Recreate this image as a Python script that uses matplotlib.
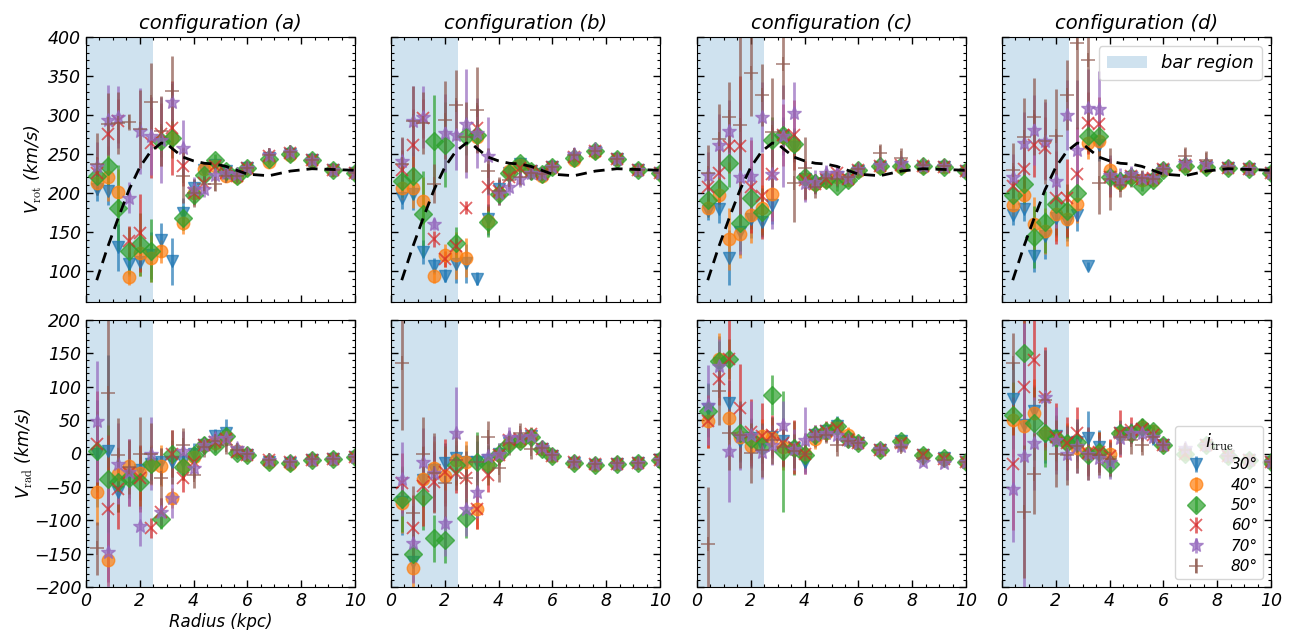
import matplotlib
matplotlib.use('Agg')
import matplotlib.pyplot as plt
from matplotlib.ticker import MultipleLocator, AutoMinorLocator

plt.rcParams['font.family'] = ['DejaVu Sans']
plt.rcParams['font.style'] = 'italic'
plt.rcParams['mathtext.fontset'] = 'custom'
plt.rcParams['mathtext.rm'] = 'cmr10'
plt.rcParams['mathtext.it'] = 'DejaVu Sans:italic'
plt.rcParams['axes.formatter.use_mathtext'] = False

# ---------------- data ----------------
radius = [0.4, 0.8, 1.2, 1.6, 2.0, 2.4, 2.8, 3.2, 3.6, 4.0,
          4.4, 4.8, 5.2, 5.6, 6.0, 6.8, 7.6, 8.4, 9.2, 10.0]
inclinations = [30, 40, 50, 60, 70, 80]
configs = ['a', 'b', 'c', 'd']

model_r = [0.4, 0.8, 1.2, 1.6, 2.0, 2.4, 2.8, 3.0, 3.2, 3.6, 4.0,
           4.4, 4.8, 5.2, 5.6, 6.0, 6.8, 7.6, 8.4, 9.2, 10.0]
model_v = [88, 130, 168, 204, 233, 253, 264, 263, 257, 246, 241,
           238, 237, 234, 229, 224, 222, 228, 231, 230, 229]

# rotation velocity (km/s)
vrot_a = {30: [205, 202, 130, 109, 111, 120, 140, 112, 174, 206, 230, 236, 228, 222, 232, 245, 250, 242, 230, 226],
          40: [213, 220, 201, 92, 123, 116, 125, 270, 162, 200, 231, 234, 222, 221, 231, 240, 249, 241, 230, 226],
          50: [222, 235, 181, 126, 134, 126, 266, 270, 168, 197, 223, 242, 228, 222, 232, 244, 250, 242, 230, 226],
          60: [226, 275, 292, 138, 149, 264, 275, 283, 234, 200, 213, 235, 226, 222, 232, 247, 251, 242, 230, 226],
          70: [235, 293, 297, 194, 279, 273, 268, 317, 258, 205, 205, 223, 226, 224, 232, 249, 252, 242, 230, 226],
          80: [237, 288, 290, 291, 282, 317, 279, 331, 222, 200, 212, 212, 222, 222, 232, 248, 252, 242, 230, 226]}
vrot_b = {30: [194, 198, 124, 106, 94, 109, 110, 90, 166, 205, 226, 237, 228, 224, 233, 244, 252, 244, 230, 226],
          40: [206, 206, 190, 94, 120, 120, 117, 272, 164, 200, 228, 236, 228, 222, 232, 242, 252, 244, 230, 226],
          50: [215, 222, 173, 266, 262, 136, 273, 274, 163, 199, 226, 238, 228, 224, 233, 245, 254, 244, 230, 226],
          60: [230, 262, 296, 141, 115, 132, 181, 283, 207, 203, 221, 232, 228, 224, 233, 246, 254, 244, 230, 226],
          70: [241, 292, 297, 160, 277, 274, 289, 277, 247, 200, 207, 218, 226, 224, 233, 250, 256, 244, 230, 226],
          80: [237, 292, 290, 212, 294, 313, 272, 306, 228, 203, 217, 220, 226, 224, 233, 248, 254, 244, 230, 226]}
vrot_c = {30: [177, 179, 117, 150, 167, 163, 185, 273, 259, 218, 212, 217, 220, 217, 228, 233, 233, 233, 233, 228],
          40: [181, 197, 141, 147, 171, 180, 199, 272, 262, 218, 211, 215, 220, 217, 228, 233, 233, 233, 233, 228],
          50: [191, 206, 238, 161, 194, 176, 268, 274, 263, 220, 213, 217, 209, 217, 230, 234, 234, 234, 233, 228],
          60: [207, 226, 260, 260, 208, 196, 224, 274, 274, 216, 212, 218, 226, 218, 230, 235, 236, 234, 233, 228],
          70: [223, 261, 279, 221, 222, 297, 224, 273, 302, 213, 214, 226, 225, 219, 231, 236, 238, 235, 234, 228],
          80: [226, 269, 297, 287, 354, 326, 278, 365, 213, 232, 208, 219, 218, 220, 231, 251, 245, 236, 234, 228]}
vrot_d = {30: [171, 179, 119, 145, 168, 163, 171, 106, 261, 221, 215, 221, 217, 217, 230, 234, 233, 232, 231, 226],
          40: [185, 197, 160, 151, 173, 167, 186, 264, 267, 230, 213, 221, 217, 217, 230, 234, 233, 232, 231, 226],
          50: [197, 211, 143, 163, 186, 177, 200, 273, 273, 221, 215, 221, 209, 217, 230, 234, 233, 232, 231, 226],
          60: [209, 231, 261, 258, 194, 194, 224, 290, 288, 220, 215, 222, 218, 219, 231, 236, 235, 232, 231, 226],
          70: [220, 264, 281, 266, 215, 300, 255, 309, 307, 223, 217, 224, 219, 219, 231, 238, 237, 233, 231, 226],
          80: [229, 272, 298, 266, 273, 326, 392, 371, 213, 218, 210, 220, 219, 218, 231, 247, 242, 233, 231, 226]}

erot_a = {30: [15, 18, 30, 15, 10, 30, 22, 30, 20, 12, 8, 6, 6, 5, 5, 6, 6, 5, 4, 4],
          40: [15, 30, 30, 10, 30, 30, 15, 15, 15, 10, 8, 6, 6, 5, 5, 6, 6, 5, 4, 4],
          50: [20, 25, 55, 30, 40, 40, 20, 25, 15, 10, 8, 8, 6, 5, 5, 6, 6, 5, 4, 4],
          60: [20, 25, 28, 20, 50, 45, 40, 60, 25, 15, 10, 8, 6, 5, 5, 8, 6, 5, 4, 4],
          70: [30, 45, 40, 20, 55, 50, 55, 25, 35, 15, 10, 8, 8, 6, 6, 8, 8, 6, 4, 4],
          80: [40, 40, 40, 10, 50, 50, 45, 45, 35, 18, 12, 10, 8, 6, 6, 10, 8, 6, 5, 5]}
erot_b = {30: [15, 20, 15, 10, 8, 25, 25, 8, 20, 12, 8, 6, 6, 5, 5, 6, 8, 6, 4, 4],
          40: [15, 25, 30, 10, 15, 30, 25, 15, 15, 10, 10, 6, 6, 5, 5, 6, 6, 5, 4, 4],
          50: [20, 30, 55, 60, 55, 20, 25, 20, 20, 10, 8, 8, 6, 5, 5, 6, 6, 5, 4, 4],
          60: [25, 45, 25, 10, 10, 10, 8, 30, 30, 15, 10, 8, 6, 5, 5, 8, 6, 5, 4, 4],
          70: [30, 45, 40, 8, 50, 45, 70, 45, 50, 15, 10, 10, 8, 6, 6, 8, 8, 6, 4, 4],
          80: [35, 45, 40, 25, 50, 45, 45, 55, 30, 18, 12, 10, 8, 6, 6, 10, 8, 6, 5, 5]}
erot_c = {30: [12, 18, 35, 30, 25, 20, 25, 25, 20, 12, 8, 6, 6, 5, 5, 6, 6, 5, 4, 4],
          40: [12, 15, 40, 30, 35, 30, 30, 20, 15, 10, 10, 8, 6, 5, 5, 6, 6, 5, 4, 4],
          50: [15, 20, 30, 35, 40, 30, 30, 20, 20, 12, 10, 8, 6, 5, 5, 6, 6, 5, 4, 4],
          60: [25, 40, 35, 90, 60, 55, 60, 40, 45, 25, 12, 10, 8, 6, 5, 8, 6, 5, 4, 4],
          70: [30, 40, 40, 100, 50, 45, 70, 65, 40, 25, 15, 10, 8, 6, 6, 8, 8, 6, 4, 4],
          80: [35, 45, 45, 130, 55, 40, 70, 45, 50, 40, 15, 12, 10, 6, 6, 12, 12, 6, 5, 5]}
erot_d = {30: [12, 15, 20, 30, 25, 25, 20, 5, 20, 12, 8, 6, 6, 5, 5, 6, 6, 5, 4, 4],
          40: [15, 20, 35, 30, 35, 35, 25, 20, 20, 10, 10, 8, 6, 5, 5, 6, 6, 5, 4, 4],
          50: [15, 25, 40, 40, 40, 35, 30, 20, 20, 12, 10, 8, 6, 5, 5, 6, 6, 5, 4, 4],
          60: [25, 40, 40, 40, 60, 50, 60, 40, 35, 25, 12, 10, 8, 6, 5, 8, 6, 5, 4, 4],
          70: [30, 40, 45, 50, 60, 45, 90, 50, 50, 25, 15, 10, 8, 6, 6, 8, 8, 6, 4, 4],
          80: [35, 50, 50, 55, 60, 45, 110, 90, 40, 40, 15, 12, 10, 6, 6, 12, 12, 6, 5, 5]}

# radial velocity (km/s)
vrad_a = {30: [0, 3, -57, -29, -25, -15, -12, -12, -12, 0, 13, 26, 31, 1, -2, -12, -14, -9, -8, -5],
          40: [-57, -159, -30, -19, -29, -17, -18, -67, -19, -5, 13, 15, 24, 3, -2, -12, -16, -9, -8, -5],
          50: [3, -38, -43, -37, -43, -15, -98, 0, -20, -2, 13, 11, 26, 1, -2, -12, -14, -9, -8, -5],
          60: [14, -83, -53, -29, -37, -112, -87, 0, -37, -12, 13, 17, 22, 2, -2, -10, -12, -9, -8, -5],
          70: [48, -147, -15, -28, -109, 0, -87, -67, 3, -22, 13, 23, 23, 8, -1, -10, -12, -9, -8, -5],
          80: [-142, 90, -2, -20, 0, 0, -37, -5, 13, -32, 10, 18, 12, 5, -1, -10, -12, -8, -8, -5]}
vrad_b = {30: [-72, -162, -40, -25, -14, -7, -12, -12, -10, 0, 16, 19, 26, 6, -3, -14, -17, -15, -14, -10],
          40: [-74, -172, -38, -22, -34, -10, -12, -83, -15, -2, 16, 19, 26, 6, -3, -14, -17, -15, -14, -10],
          50: [-68, -150, -65, -127, -129, -17, -97, -13, -17, 0, 14, 19, 24, 6, -3, -14, -17, -15, -14, -10],
          60: [-44, -112, -49, -42, -28, -29, -37, -83, -32, -2, 20, 22, 29, 6, -3, -12, -15, -15, -14, -10],
          70: [-38, -134, -12, -29, -104, 30, -83, -57, -4, 0, 24, 24, 26, 10, -2, -12, -15, -15, -14, -10],
          80: [135, -89, 0, -29, -44, -10, -37, -12, 24, -22, 16, 31, 7, 8, -2, -12, -15, -14, -14, -10]}
vrad_c = {30: [66, 136, 75, 18, 23, 11, 25, 18, 8, -12, 28, 33, 41, 21, 16, 5, 18, -2, -7, -12],
          40: [48, 141, 53, 25, 11, 26, 23, 10, 6, 0, 22, 30, 38, 28, 16, 5, 16, -2, -8, -12],
          50: [64, 138, 142, 30, 21, 11, 88, 3, 8, -2, 28, 33, 41, 21, 16, 5, 18, -2, -7, -12],
          60: [48, 112, 142, 68, 32, 26, 28, 16, 10, 0, 28, 33, 38, 20, 15, 5, 15, -2, -8, -12],
          70: [72, 131, 3, 26, 28, 2, 13, 43, 6, 20, 28, 30, 27, 20, 15, 6, 11, -12, -14, -12],
          80: [-135, 93, 30, 28, 1, 5, 20, 10, 4, 0, 24, 28, 12, 18, 15, 5, 10, -6, -10, -12]}
vrad_d = {30: [82, 42, 63, 26, 26, 15, 17, 23, 10, -12, 30, 30, 36, 23, 13, 0, 13, -4, -9, -12],
          40: [50, 41, 61, 30, 23, 15, 8, 1, 2, 0, 30, 30, 40, 33, 13, 0, 13, -4, -9, -12],
          50: [57, 151, 45, 30, 23, 15, 17, -2, 2, -15, 30, 30, 40, 33, 13, 0, 13, -4, -9, -12],
          60: [-15, 100, 140, 85, 25, 15, 30, 1, 2, -4, 30, 35, 36, 28, 13, 0, 13, -4, -9, -12],
          70: [-53, -4, 15, 85, 20, 0, 11, 0, -7, -13, 23, 30, 30, 25, 13, 8, 12, -4, -9, -12],
          80: [135, -87, -30, 80, 0, -2, 11, 0, -2, -8, 25, 20, 13, 25, 13, 5, 12, -4, -9, -12]}

erad_a = {30: [80, 145, 30, 25, 30, 25, 20, 25, 20, 15, 12, 10, 20, 8, 6, 6, 10, 6, 5, 5],
          40: [50, 40, 40, 25, 40, 30, 30, 15, 20, 12, 10, 10, 10, 8, 6, 6, 8, 6, 5, 5],
          50: [60, 80, 45, 30, 40, 25, 15, 20, 20, 12, 10, 10, 10, 8, 6, 6, 8, 6, 5, 5],
          60: [80, 110, 60, 50, 50, 15, 20, 35, 20, 15, 10, 10, 10, 8, 6, 6, 8, 6, 5, 5],
          70: [90, 120, 60, 50, 30, 55, 20, 30, 30, 15, 12, 12, 10, 8, 6, 6, 8, 6, 5, 5],
          80: [40, 110, 55, 40, 55, 45, 45, 40, 25, 20, 15, 15, 12, 8, 6, 8, 8, 6, 5, 5]}
erad_b = {30: [50, 30, 40, 40, 30, 25, 25, 30, 20, 12, 10, 10, 10, 8, 6, 6, 8, 6, 5, 5],
          40: [45, 30, 40, 40, 40, 30, 30, 30, 20, 12, 10, 10, 10, 8, 6, 6, 8, 6, 5, 5],
          50: [50, 30, 50, 35, 35, 30, 30, 45, 30, 15, 10, 10, 10, 8, 6, 6, 8, 6, 5, 5],
          60: [45, 50, 60, 45, 50, 30, 30, 30, 25, 15, 12, 10, 10, 8, 6, 6, 8, 6, 5, 5],
          70: [55, 60, 50, 55, 50, 70, 40, 40, 30, 15, 15, 12, 10, 8, 6, 6, 8, 6, 5, 5],
          80: [100, 40, 55, 60, 55, 45, 40, 40, 25, 20, 18, 15, 15, 8, 6, 8, 8, 6, 5, 5]}
erad_c = {30: [40, 40, 35, 30, 30, 25, 30, 35, 20, 15, 12, 10, 15, 8, 8, 6, 8, 6, 5, 5],
          40: [40, 40, 40, 35, 25, 25, 30, 35, 25, 20, 15, 12, 12, 12, 8, 6, 8, 6, 5, 5],
          50: [40, 30, 30, 40, 30, 25, 30, 90, 40, 20, 12, 10, 12, 8, 8, 6, 8, 6, 5, 5],
          60: [40, 40, 60, 66, 50, 50, 30, 35, 40, 30, 15, 15, 12, 8, 8, 6, 8, 6, 5, 5],
          70: [60, 40, 75, 50, 50, 40, 30, 35, 30, 50, 15, 12, 12, 8, 8, 6, 8, 6, 5, 5],
          80: [85, 50, 55, 50, 45, 40, 35, 30, 25, 20, 15, 12, 15, 8, 8, 6, 8, 6, 5, 5]}
erad_d = {30: [55, 40, 40, 40, 30, 25, 30, 40, 25, 15, 12, 12, 15, 10, 8, 6, 8, 6, 5, 5],
          40: [55, 50, 50, 40, 30, 30, 30, 30, 30, 20, 15, 12, 12, 10, 8, 6, 8, 6, 5, 5],
          50: [50, 100, 55, 50, 35, 25, 25, 30, 30, 20, 12, 15, 12, 10, 8, 6, 8, 6, 5, 5],
          60: [100, 100, 60, 75, 50, 40, 40, 35, 30, 25, 35, 20, 15, 10, 8, 6, 8, 6, 5, 5],
          70: [80, 200, 70, 70, 50, 40, 40, 40, 30, 25, 25, 15, 12, 10, 8, 6, 8, 6, 5, 5],
          80: [45, 100, 60, 75, 50, 45, 40, 40, 30, 25, 25, 20, 15, 10, 8, 6, 8, 6, 5, 5]}

bar_end = 2.5

vrot = {'a': vrot_a, 'b': vrot_b, 'c': vrot_c, 'd': vrot_d}
erot = {'a': erot_a, 'b': erot_b, 'c': erot_c, 'd': erot_d}
vrad = {'a': vrad_a, 'b': vrad_b, 'c': vrad_c, 'd': vrad_d}
erad = {'a': erad_a, 'b': erad_b, 'c': erad_c, 'd': erad_d}

# ---------------- style ----------------
colors = {30: 'tab:blue', 40: 'tab:orange', 50: 'tab:green',
          60: 'tab:red', 70: 'tab:purple', 80: 'tab:brown'}
markers = {30: 'v', 40: 'o', 50: 'D', 60: 'x', 70: '*', 80: '+'}
msizes = {30: 9, 40: 9, 50: 9, 60: 8, 70: 10, 80: 10}
mews = {30: 1, 40: 1, 50: 1, 60: 1.3, 70: 1, 80: 1.2}

W, H = 1293, 630
fig = plt.figure(figsize=(W / 100, H / 100), dpi=100)
lefts = [86, 391, 697, 1002]
aw = 269
row_px = [(37, 302), (320, 587)]


def make_ax(col, row):
    x0 = lefts[col]
    y_top, y_bot = row_px[row]
    return fig.add_axes([x0 / W, 1 - y_bot / H, aw / W, (y_bot - y_top) / H])


def style(ax, row, col):
    ax.set_xlim(0, 10)
    ax.xaxis.set_major_locator(MultipleLocator(2))
    ax.xaxis.set_minor_locator(AutoMinorLocator(4))
    if row == 0:
        ax.set_ylim(60, 400)
        ax.yaxis.set_major_locator(MultipleLocator(50))
        ax.yaxis.set_minor_locator(AutoMinorLocator(5))
        ax.set_yticks([100, 150, 200, 250, 300, 350, 400])
    else:
        ax.set_ylim(-200, 200)
        ax.yaxis.set_major_locator(MultipleLocator(50))
        ax.yaxis.set_minor_locator(AutoMinorLocator(5))
    ax.tick_params(which='both', direction='in', top=True, right=True, labelsize=12.5)
    ax.tick_params(which='major', length=5, width=1)
    ax.tick_params(which='minor', length=2.5, width=0.8)
    if row == 0:
        ax.tick_params(labelbottom=False)
    if col > 0:
        ax.tick_params(labelleft=False)


for col, cfg in enumerate(configs):
    for row in range(2):
        ax = make_ax(col, row)
        span = ax.axvspan(0, bar_end, color='tab:blue', alpha=0.21, lw=0, label='bar region')
        data = vrot[cfg] if row == 0 else vrad[cfg]
        errs = erot[cfg] if row == 0 else erad[cfg]
        hs = []
        for inc in inclinations:
            h = ax.errorbar(radius, data[inc], yerr=errs[inc], fmt=markers[inc],
                            color=colors[inc], ms=msizes[inc], mew=mews[inc],
                            elinewidth=2, alpha=0.7, capsize=0,
                            label=f'{inc}°')
            hs.append(h)
        if row == 0:
            ax.plot(model_r, model_v, color='black', ls='--', lw=2, dashes=(4, 2.5), zorder=5)
            ax.set_title(f'configuration ({cfg})', fontsize=14, pad=6)
        style(ax, row, col)
        if col == 0:
            if row == 0:
                ax.set_ylabel(r'$V_{\rm rot}$ (km/s)', fontsize=12.5, labelpad=4)
            else:
                ax.set_ylabel(r'$V_{\rm rad}$ (km/s)', fontsize=12.5, labelpad=0)
                ax.set_xlabel('Radius (kpc)', fontsize=12, labelpad=2)
        if col == 3 and row == 0:
            ax.legend(handles=[span], loc='upper right', fontsize=13,
                      handlelength=2.2, borderpad=0.45)
        if col == 3 and row == 1:
            leg = ax.legend(handles=hs, loc='lower right', fontsize=11,
                            title=r'$i_{\rm true}$', title_fontsize=13,
                            handletextpad=1.3, labelspacing=0.35,
                            borderpad=0.35)

fig.savefig('out.png', dpi=100)
